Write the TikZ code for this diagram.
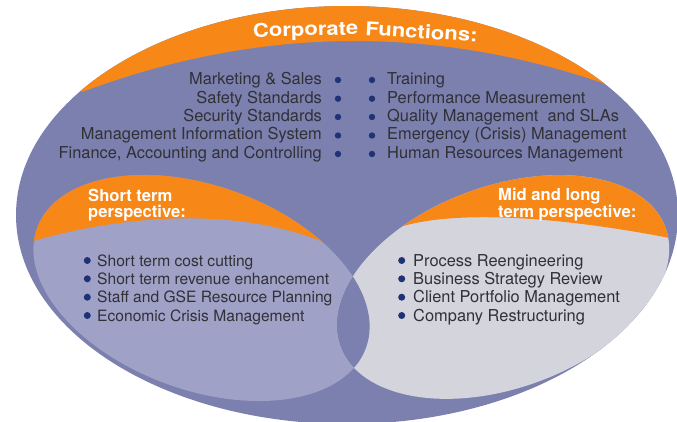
\documentclass[tikz,border=0pt]{standalone}
\usepackage{fontspec}
\setmainfont{TeX Gyre Heros}
\definecolor{cfpurple}{RGB}{124,128,174}
\definecolor{cflilac}{RGB}{160,161,199}
\definecolor{cfgrey}{RGB}{212,212,221}
\definecolor{cforange}{RGB}{247,135,22}
\definecolor{cfdot}{RGB}{30,50,118}
\definecolor{cftext}{RGB}{48,48,54}

\begin{document}
\begin{tikzpicture}[x=1pt, y=-1pt,
    listitem/.style={inner sep=0pt, text=cftext, font=\fontsize{16.4}{18}\selectfont},
    subitem/.style={inner sep=0pt, text=cftext, font=\fontsize{15.6}{18}\selectfont},
    lobehead/.style={inner sep=0pt, text=white, align=left, font=\bfseries\fontsize{16.6}{15.5}\selectfont},
    captext/.style={inner sep=0pt, text=white, font=\bfseries\fontsize{19}{22}\selectfont}]
            \useasboundingbox (0,0) rectangle (677,421);
            % Outer oval
            \fill [cfpurple] (347,215) ellipse [x radius=331, y radius=209];
            \begin{scope}
                \clip (347,215) ellipse [x radius=331, y radius=209];
                \fill [cforange] (82,92) .. controls (264,24) and (446,24) .. (628,92) -- (700,-20) -- (-20,-20) -- cycle;
                % Perspectives
                \fill [cflilac, rotate around={-20:(201.5,288)}] (201.5,288) ellipse [x radius=175, y radius=102];
                \fill [cfgrey, rotate around={20:(503,287)}] (503,287) ellipse [x radius=173, y radius=101];
                \begin{scope}
                    \clip [rotate around={-20:(201.5,288)}] (201.5,288) ellipse [x radius=175, y radius=102];
                    \fill [cfpurple, rotate around={20:(503,287)}] (503,287) ellipse [x radius=173, y radius=101];
                    \fill [cforange] (30,242) .. controls (120,215) and (240,205) .. (330,245) -- (330,150) -- (30,150) -- cycle;
                \end{scope}
                \begin{scope}
                    \clip [rotate around={20:(503,287)}] (503,287) ellipse [x radius=173, y radius=101];
                    \fill [cforange] (385,233) .. controls (430,210) and (540,212) .. (680,240) -- (680,150) -- (385,150) -- cycle;
                \end{scope}
            \end{scope}

            % Title
            \node (capA) [captext, anchor=base west, rotate=1.5] at (253,37.3) {\scalebox{1.16}[1]{Corporate}};
            \node (capB) [captext, anchor=base west, rotate=-3.5] at (365,35) {\scalebox{1.16}[1]{Functions:}};

            % Corporate functions, left
            \node (mkt) [listitem, anchor=base east] at (322,84.3) {Marketing \& Sales};
            \node (safety) [listitem, anchor=base east] at (322,103) {Safety Standards};
            \node (security) [listitem, anchor=base east] at (322,121.3) {Security Standards};
            \node (mis) [listitem, anchor=base east] at (322,139.8) {Management Information System};
            \node (finance) [listitem, anchor=base east] at (322,158.3) {Finance, Accounting and Controlling};
            \fill [cfdot] (338,80) circle (3.2);
            \fill [cfdot] (338,98.7) circle (3.2);
            \fill [cfdot] (338,117) circle (3.2);
            \fill [cfdot] (338,135.5) circle (3.2);
            \fill [cfdot] (338,154) circle (3.2);

            % Corporate functions, right
            \node (training) [listitem, anchor=base west] at (387,84.3) {Training};
            \node (perf) [listitem, anchor=base west] at (387,103) {Performance Measurement};
            \node (quality) [listitem, anchor=base west] at (387,121.3) {Quality Management\ \ and SLAs};
            \node (crisis) [listitem, anchor=base west] at (387,139.8) {Emergency (Crisis) Management};
            \node (hr) [listitem, anchor=base west] at (387,158.3) {Human Resources Management};
            \fill [cfdot] (372,80) circle (3.2);
            \fill [cfdot] (372,98.7) circle (3.2);
            \fill [cfdot] (372,117) circle (3.2);
            \fill [cfdot] (372,135.5) circle (3.2);
            \fill [cfdot] (372,154) circle (3.2);

            % Short term
            \node (shorthead) [lobehead, anchor=base west] at (88,217) {Short term\\perspective:};
            \node (costcut) [subitem, anchor=base west] at (97,266) {Short term cost cutting};
            \node (revenue) [subitem, anchor=base west] at (97,284.3) {Short term revenue enhancement};
            \node (staff) [subitem, anchor=base west] at (97,302.7) {Staff and GSE Resource Planning};
            \node (econ) [subitem, anchor=base west] at (97,321) {Economic Crisis Management};
            \fill [cfdot] (87.3,260.5) circle (3.5);
            \fill [cfdot] (87.3,278.8) circle (3.5);
            \fill [cfdot] (87.3,297.2) circle (3.5);
            \fill [cfdot] (87.3,315.5) circle (3.5);

            % Mid and long term
            \node (midhead) [lobehead, anchor=base west] at (498,217) {Mid and long\\term perspective:};
            \node (reeng) [listitem, anchor=base west] at (413,266) {Process Reengineering};
            \node (strategy) [listitem, anchor=base west] at (413,284.3) {Business Strategy Review};
            \node (portfolio) [listitem, anchor=base west] at (413,302.7) {Client Portfolio Management};
            \node (restruct) [listitem, anchor=base west] at (413,321) {Company Restructuring};
            \fill [cfdot] (401.7,260.5) circle (3.5);
            \fill [cfdot] (401.7,278.8) circle (3.5);
            \fill [cfdot] (401.7,297.2) circle (3.5);
            \fill [cfdot] (401.7,315.5) circle (3.5);
        \end{tikzpicture}
\end{document}
